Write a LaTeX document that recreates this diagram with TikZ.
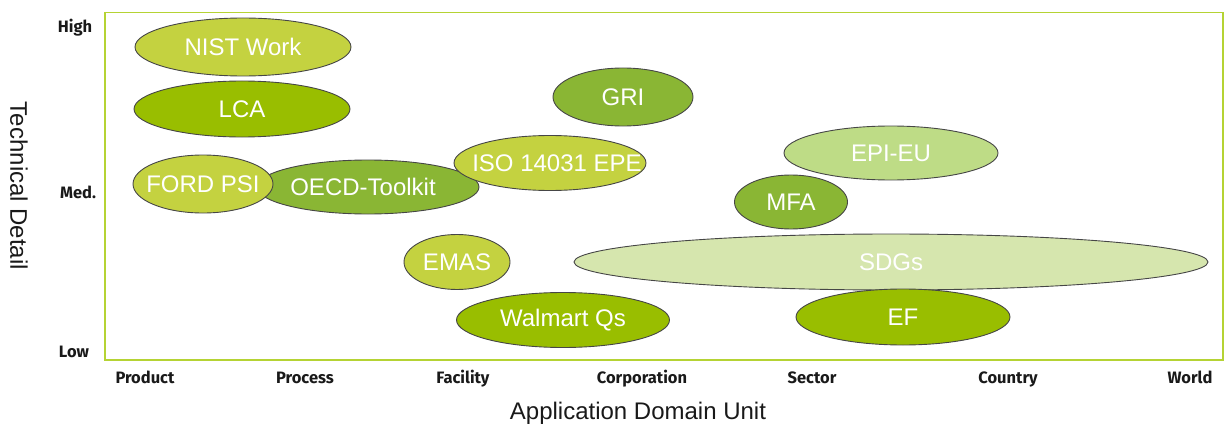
\documentclass[tikz,border=0pt]{standalone}
\usepackage{fontspec}
\setmainfont{Liberation Sans}
\newfontfamily\tickfont{Fira Sans}
\usetikzlibrary{shapes.geometric}
\definecolor{frameg}{RGB}{181,211,52}
\definecolor{olivef}{RGB}{196,210,64}
\definecolor{brightf}{RGB}{153,190,0}
\definecolor{midf}{RGB}{138,182,52}
\definecolor{paleF}{RGB}{190,220,134}
\definecolor{palerF}{RGB}{214,230,174}
\definecolor{edgeg}{RGB}{70,70,70}
\newcommand{\zw}[1]{\makebox[0pt][c]{#1}}
\tikzset{
  blob/.style={ellipse, draw=edgeg, line width=0.9pt, inner sep=0pt, text=white,
     font=\fontsize{24}{24}\selectfont},
  tick/.style={font=\tickfont\bfseries\fontsize{16.5}{16.5}\selectfont, text=black!90},
  xtick/.style={tick, anchor=base},
  axistitle/.style={font=\fontsize{24}{24}\selectfont, text=black!90},
}
\begin{document}
\begin{tikzpicture}[x=1pt,y=-1pt]
\useasboundingbox (0,0) rectangle (1224,428);
\node[draw=frameg, line width=1.5pt, minimum width=1118pt, minimum height=347pt, anchor=north west, inner sep=0pt] (frame) at (104,12) {};
% ellipses
\node[blob, fill=olivef, minimum width=216pt, minimum height=58pt] (nist) at (243,47) {\zw{NIST Work}};
\node[blob, fill=brightf, minimum width=216pt, minimum height=56pt] (lca) at (242,109) {\zw{LCA}};
\node[blob, fill=midf, minimum width=222pt, minimum height=54pt] (oecd) at (368,187) {\zw{\hspace*{-10pt}OECD-Toolkit}};
\node[blob, fill=olivef, minimum width=140pt, minimum height=58pt] (ford) at (203,184) {\zw{FORD PSI}};
\node[blob, fill=olivef, minimum width=192pt, minimum height=55pt] (iso) at (550,163) {\zw{\hspace*{14pt}ISO 14031 EPE}};
\node[blob, fill=midf, minimum width=140pt, minimum height=58pt] (gri) at (623,97) {\zw{GRI}};
\node[blob, fill=paleF, minimum width=214pt, minimum height=54pt] (epi) at (891,153) {\zw{EPI-EU}};
\node[blob, fill=midf, minimum width=113pt, minimum height=54pt] (mfa) at (791,202) {\zw{MFA}};
\node[blob, fill=olivef, minimum width=106pt, minimum height=55pt] (emas) at (457,262) {\zw{EMAS}};
\node[blob, fill=palerF, minimum width=634pt, minimum height=56pt] (sdg) at (891,262) {\zw{SDGs}};
\node[blob, fill=brightf, minimum width=213pt, minimum height=55pt] (walmart) at (563,320) {\zw{Walmart Qs}};
\node[blob, fill=brightf, minimum width=214pt, minimum height=56pt] (ef) at (903,317) {\zw{EF}};
% ticks
\node[tick] (high) at (75,28) {High};
\node[tick] (med) at (78,192) {Med.};
\node[tick] (low) at (74,352) {Low};
\node[xtick] (product) at (145,383) {Product};
\node[xtick] (process) at (305,383) {Process};
\node[xtick] (facility) at (463,383) {Facility};
\node[xtick] (corp) at (642,383) {Corporation};
\node[xtick] (sector) at (812,383) {Sector};
\node[xtick] (country) at (1008,383) {Country};
\node[xtick] (world) at (1190,383) {World};
% axis titles
\node[axistitle, rotate=-90] (ytitle) at (19,186) {Technical Detail};
\node[axistitle] (xtitle) at (638,413) {Application Domain Unit};
\end{tikzpicture}
\end{document}
